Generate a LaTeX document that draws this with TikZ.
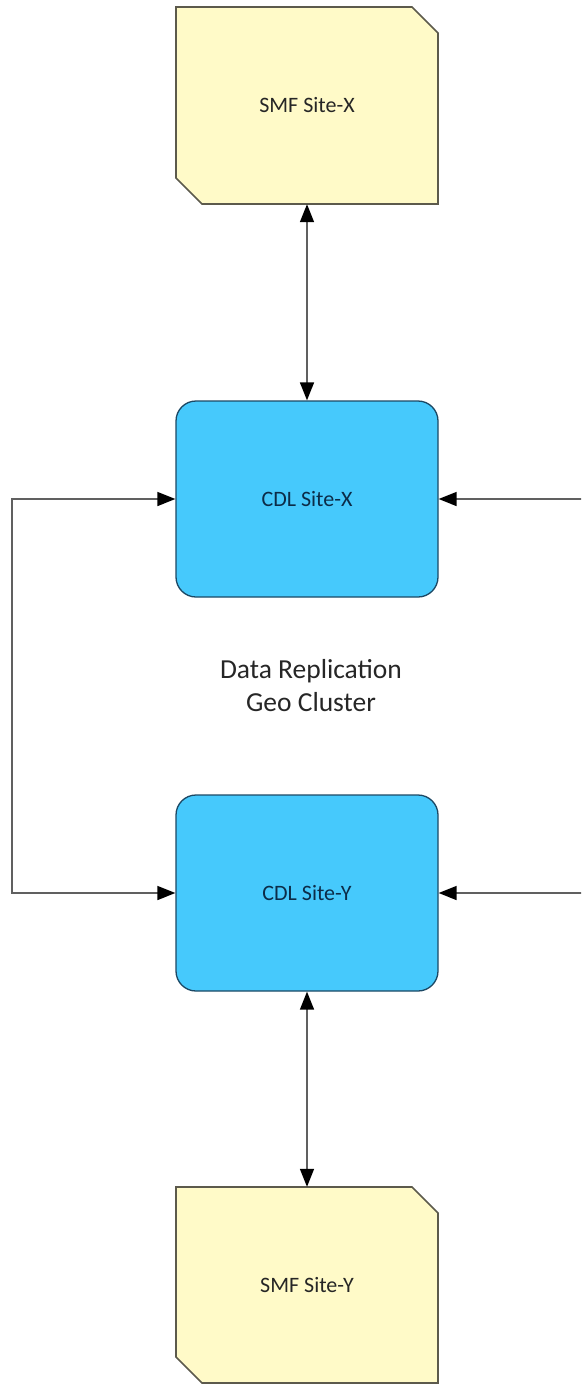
\documentclass[tikz,border=0pt]{standalone}
\usepackage{fontspec}
\setmainfont{Carlito}
\usetikzlibrary{arrows.meta}
\definecolor{smffill}{HTML}{FFFAC8}
\definecolor{smfdraw}{HTML}{5C5A4C}
\definecolor{cdlfill}{HTML}{46C9FC}
\definecolor{cdldraw}{HTML}{1C4864}
\definecolor{cdltext}{HTML}{0C2C48}
\definecolor{linegray}{HTML}{606060}
\tikzset{
  smfshape/.style={draw=smfdraw, fill=smffill, line width=1.6pt, line join=miter},
  smflabel/.style={minimum width=262pt, minimum height=197pt, inner sep=0pt, font=\fontsize{22}{26}\selectfont, text=black!85},
  cdlbox/.style={draw=cdldraw, fill=cdlfill, line width=1.3pt, rounded corners=20pt, minimum width=262pt, minimum height=196pt, inner sep=0pt, font=\fontsize{22}{26}\selectfont, text=cdltext},
  conn/.style={draw=linegray, line width=1.6pt, {Triangle[length=18pt,width=14pt,fill=black,color=black]}-{Triangle[length=18pt,width=14pt,fill=black,color=black]}},
  centerlabel/.style={align=center, font=\fontsize{27.5}{33}\selectfont, text=black!85}
}
\begin{document}
\begin{tikzpicture}[x=1pt,y=-1pt]
\useasboundingbox (0,0) rectangle (581,1384);
\clip (0,0) rectangle (581,1384);
% SMF Site-X
\path[smfshape] (176,7) -- (412,7) -- (438,33) -- (438,204) -- (202,204) -- (176,178) -- cycle;
\node[smflabel] (smfx) at (307,105.5) {SMF Site-X};
% SMF Site-Y
\path[smfshape] (176,1187) -- (412,1187) -- (438,1213) -- (438,1383) -- (202,1383) -- (176,1357) -- cycle;
\node[smflabel, minimum height=196pt] (smfy) at (307,1285) {SMF Site-Y};
% CDL boxes
\node[cdlbox] (cdlx) at (307,499) {CDL Site-X};
\node[cdlbox] (cdly) at (307,893) {CDL Site-Y};
% center label
\node[centerlabel] (geo) at (311,686) {Data Replication\\Geo Cluster};
% side coordinates
\coordinate (L) at (12,0);
\coordinate (R) at (600,0);
% connectors
\draw[conn] (smfx.south) -- (cdlx.north);
\draw[conn] (cdly.south) -- (smfy.north);
\draw[conn] (cdlx.west) -- (cdlx.west -| L) -- (cdly.west -| L) -- (cdly.west);
\draw[conn] (cdlx.east) -- (cdlx.east -| R) -- (cdly.east -| R) -- (cdly.east);
\end{tikzpicture}
\end{document}
